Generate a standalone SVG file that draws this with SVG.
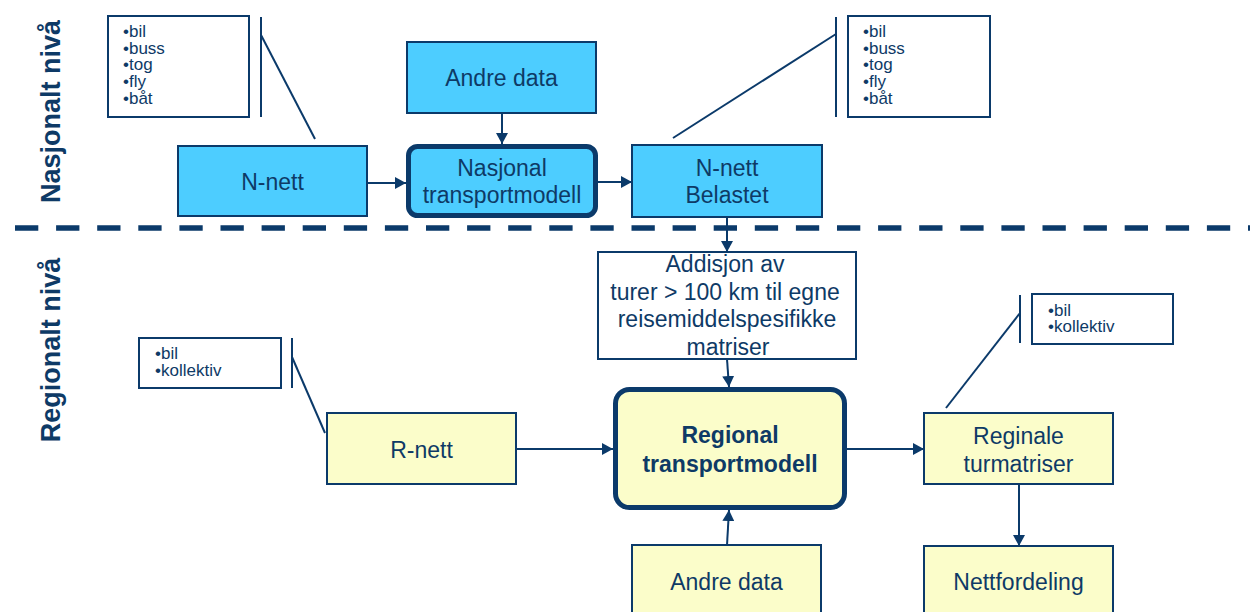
<svg xmlns="http://www.w3.org/2000/svg" width="1250" height="612" viewBox="0 0 1250 612">
<style>
text{font-family:"Liberation Sans",Arial,sans-serif;fill:#0E3A66}
.t{font-size:23px;text-anchor:middle}
.b{font-weight:bold}
.lv{font-size:27px;font-weight:bold;text-anchor:middle}
.bl{font-size:17px}
.blue{fill:#4DCDFF;stroke:#0B3A6A;stroke-width:2}
.yel{fill:#FBFDCA;stroke:#0B3A6A;stroke-width:2}
.thick{stroke-width:5}
.leg{fill:#fff;stroke:#0B3A6A;stroke-width:2}
.ln{stroke:#0B3A6A;stroke-width:2;fill:none}
.ar{stroke:#0B3A6A;stroke-width:2;fill:none;marker-end:url(#ah)}
</style>
<defs>
<marker id="ah" markerUnits="userSpaceOnUse" markerWidth="12" markerHeight="12" refX="11" refY="6" orient="auto">
<path d="M0,0 L11,6 L0,12 Z" fill="#0B3A6A"/>
</marker>
</defs>
<rect width="1250" height="612" fill="#fff"/>

<g id="level-labels">
<text class="lv" transform="translate(60,111.5) rotate(-90)">Nasjonalt nivå</text>
<text class="lv" transform="translate(60,350) rotate(-90)">Regionalt nivå</text>
</g>

<g id="divider">
<line x1="15" y1="228" x2="1250" y2="228" stroke="#0B3A6A" stroke-width="5.5" stroke-dasharray="23.3 17.8"/>
</g>

<g id="connectors">
<line class="ar" x1="367" y1="183" x2="406" y2="183"/>
<line class="ar" x1="502" y1="113" x2="502" y2="144"/>
<line class="ar" x1="598" y1="182" x2="632" y2="182"/>
<line class="ar" x1="727" y1="217" x2="727" y2="252"/>
<line class="ar" x1="727" y1="359" x2="729" y2="387"/>
<line class="ar" x1="516" y1="449" x2="613" y2="449"/>
<line class="ar" x1="847" y1="449" x2="924" y2="449"/>
<line class="ar" x1="727" y1="545" x2="729" y2="510"/>
<line class="ar" x1="1019" y1="484" x2="1019" y2="546"/>
<line class="ln" x1="261" y1="35" x2="315" y2="139"/>
<line class="ln" x1="836" y1="34" x2="673" y2="138"/>
<line class="ln" x1="292" y1="357" x2="325" y2="433"/>
<line class="ln" x1="1020" y1="313" x2="946" y2="408"/>
</g>

<g id="legend-nnett">
<rect class="leg" x="108" y="16" width="141" height="101"/>
<line class="ln" x1="261" y1="17" x2="261" y2="117"/>
<text class="bl" x="123" y="37">•bil</text>
<text class="bl" x="123" y="54">•buss</text>
<text class="bl" x="123" y="70">•tog</text>
<text class="bl" x="123" y="87">•fly</text>
<text class="bl" x="123" y="104">•båt</text>
</g>

<g id="legend-belastet">
<rect class="leg" x="848" y="16" width="142" height="101"/>
<line class="ln" x1="836" y1="17" x2="836" y2="117"/>
<text class="bl" x="863" y="37">•bil</text>
<text class="bl" x="863" y="54">•buss</text>
<text class="bl" x="863" y="70">•tog</text>
<text class="bl" x="863" y="87">•fly</text>
<text class="bl" x="863" y="104">•båt</text>
</g>

<g id="legend-rnett">
<rect class="leg" x="139" y="338" width="142" height="50"/>
<line class="ln" x1="292" y1="338" x2="292" y2="388"/>
<text class="bl" x="155" y="359">•bil</text>
<text class="bl" x="155" y="376">•kollektiv</text>
</g>

<g id="legend-reginale">
<rect class="leg" x="1032" y="294" width="141" height="50"/>
<line class="ln" x1="1020" y1="295" x2="1020" y2="343"/>
<text class="bl" x="1048" y="316">•bil</text>
<text class="bl" x="1048" y="332">•kollektiv</text>
</g>

<g id="n-nett">
<rect class="blue" x="178" y="146" width="189" height="70"/>
<text class="t" x="272.5" y="190">N-nett</text>
</g>

<g id="andre-data-n">
<rect class="blue" x="407" y="42" width="189" height="71"/>
<text class="t" x="501.5" y="86">Andre data</text>
</g>

<g id="nasjonal">
<rect class="blue thick" x="408.5" y="146.5" width="187" height="69" rx="9"/>
<text class="t" x="502" y="176">Nasjonal</text>
<text class="t" x="502" y="203">transportmodell</text>
</g>

<g id="n-nett-belastet">
<rect class="blue" x="632" y="145" width="190" height="72"/>
<text class="t" x="727" y="176">N-nett</text>
<text class="t" x="727" y="203">Belastet</text>
</g>

<g id="addisjon">
<rect class="leg" x="598" y="252" width="258" height="107"/>
<text class="t" x="725" y="272">Addisjon av</text>
<text class="t" x="725" y="300">turer &gt; 100 km til egne</text>
<text class="t" x="727" y="327">reisemiddelspesifikke</text>
<text class="t" x="728" y="355">matriser</text>
</g>

<g id="r-nett">
<rect class="yel" x="327" y="413" width="189" height="71"/>
<text class="t" x="421.5" y="458">R-nett</text>
</g>

<g id="regional">
<rect class="yel thick" x="615.5" y="389.5" width="229" height="118" rx="14"/>
<text class="t b" x="730" y="443">Regional</text>
<text class="t b" x="730" y="472">transportmodell</text>
</g>

<g id="reginale">
<rect class="yel" x="924" y="413" width="189" height="71"/>
<text class="t" x="1018.5" y="444">Reginale</text>
<text class="t" x="1018.5" y="472">turmatriser</text>
</g>

<g id="andre-data-r">
<rect class="yel" x="632" y="545" width="189" height="80"/>
<text class="t" x="726.5" y="590">Andre data</text>
</g>

<g id="nettfordeling">
<rect class="yel" x="924" y="546" width="189" height="80"/>
<text class="t" x="1018.5" y="590">Nettfordeling</text>
</g>
</svg>
